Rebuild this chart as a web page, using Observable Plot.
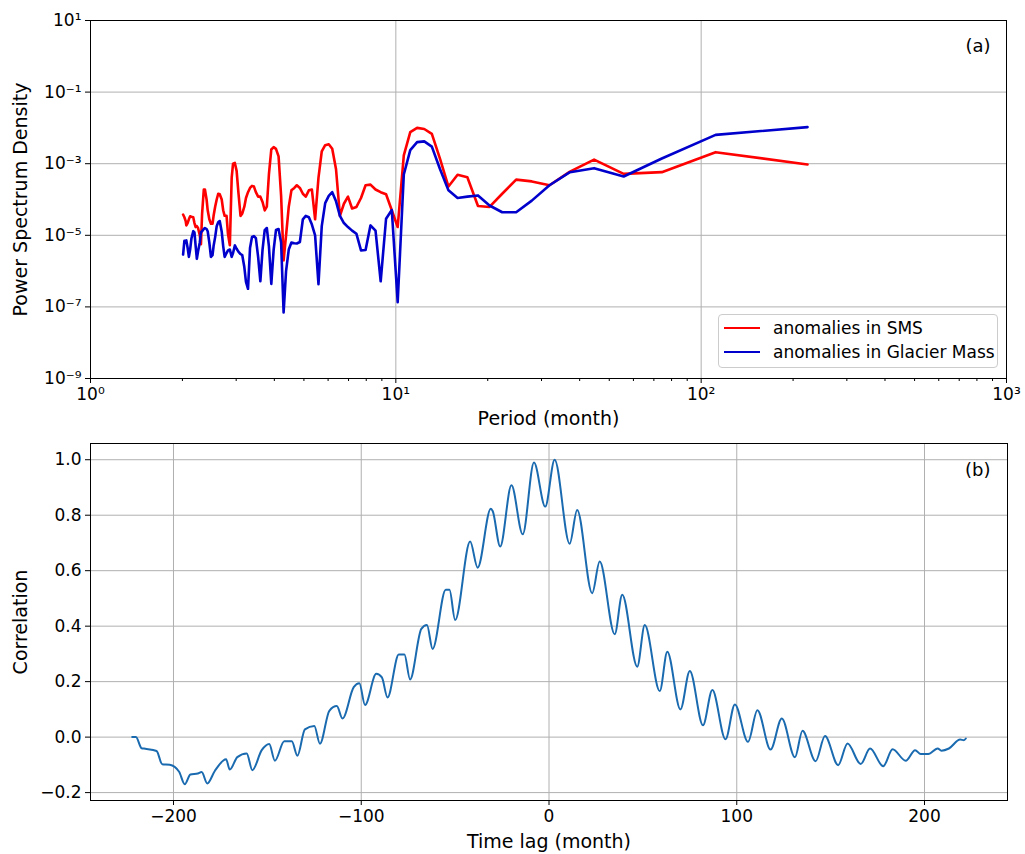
<!DOCTYPE html>
<html><head><meta charset="utf-8">
<script src="https://cdn.jsdelivr.net/npm/d3@7"></script>
<script src="https://cdn.jsdelivr.net/npm/@observablehq/plot@0.6"></script>
<style>
body{margin:0;background:#fff;font-family:"DejaVu Sans",sans-serif;}
#wrap{position:relative;width:1025px;height:854px;}
#top,#bottom{display:block;line-height:0;}
.legend{position:absolute;left:718px;top:314px;width:280px;height:54px;border:1px solid #cccccc;border-radius:4px;background:rgba(255,255,255,0.8);box-sizing:border-box;font-size:17px;color:#000;line-height:1;}
.row{position:absolute;left:0;height:20px;display:flex;align-items:center;white-space:nowrap;}
.sw{display:inline-block;width:36px;height:0;border-top:2.6px solid;margin-left:5px;margin-right:13px;}
</style></head>
<body>
<div id="wrap">
<div id="top"></div>
<div id="bottom"></div>
<div class="legend">
<div class="row" style="top:3px"><span class="sw" style="border-color:#ff0000"></span>anomalies in SMS</div>
<div class="row" style="top:27px"><span class="sw" style="border-color:#0000cd"></span>anomalies in Glacier Mass</div>
</div>
</div>
<script>
// ---- Panel (a): power spectrum density vs period (month) ----
const periods = [223, 111.5, 74.33, 55.75, 44.6, 37.17, 31.86, 27.88, 24.78, 22.3,
 20.27, 18.58, 17.15, 15.93, 14.87, 13.94, 13.12, 12.39, 11.74, 11.15,
 10.62, 10.14, 9.70, 9.29, 8.92, 8.58, 8.26, 7.96, 7.69, 7.43,
 7.19, 6.97, 6.76, 6.56, 6.37, 6.19, 6.03, 5.87, 5.72, 5.58,
 5.44, 5.31, 5.19, 5.07, 4.96, 4.85, 4.74, 4.65, 4.55, 4.46,
 4.37, 4.29, 4.21, 4.13, 4.05, 3.98, 3.91, 3.84, 3.78, 3.72,
 3.66, 3.60, 3.54, 3.48, 3.43, 3.38, 3.33, 3.28, 3.23, 3.19,
 3.14, 3.10, 3.05, 3.01, 2.97, 2.93, 2.90, 2.86, 2.82, 2.79,
 2.75, 2.72, 2.69, 2.65, 2.62, 2.59, 2.56, 2.53, 2.51, 2.48,
 2.45, 2.42, 2.40, 2.37, 2.35, 2.32, 2.30, 2.28, 2.25, 2.23,
 2.21, 2.19, 2.17, 2.14, 2.12, 2.10, 2.08, 2.06, 2.05, 2.03, 2.01];

const psdSMS = [9.5e-4, 2.1e-3, 5.8e-4, 5.2e-4, 1.3e-3, 6.0e-4, 2.5e-4, 3.2e-4, 3.6e-4, 1.45e-4,
 6.2e-5, 6.6e-5, 4.2e-4, 4.9e-4, 2.3e-4, 1.4e-3, 6.8e-3, 9.3e-3, 1.0e-2, 7.6e-3,
 1.7e-3, 1.7e-5, 5.0e-5, 1.4e-4, 1.6e-4, 1.9e-4, 2.6e-4, 2.5e-4, 1.1e-4, 6.2e-5,
 5.6e-5, 1.2e-4, 7.6e-5, 3.5e-5, 7.0e-4, 2.6e-3, 3.5e-3, 3.3e-3, 2.2e-3, 4.0e-4,
 2.8e-5, 1.9e-4, 1.8e-4, 1.2e-4, 1.45e-4, 2.1e-4, 2.5e-4, 2.1e-4, 1.8e-4, 6.3e-5,
 1.0e-5, 2.0e-6, 1.26e-4, 1.6e-3, 2.6e-3, 2.9e-3, 2.5e-3, 5.0e-4, 6.3e-5, 5.0e-5,
 8.5e-5, 1.2e-4, 1.2e-4, 1.6e-4, 2.3e-4, 2.4e-4, 2.1e-4, 1.6e-4, 1.1e-4, 6.3e-5,
 4.0e-5, 3.5e-5, 1.6e-4, 6.3e-4, 1.05e-3, 1.0e-3, 4.0e-4, 5.3e-6, 1.1e-5, 3.5e-5,
 3.5e-5, 5.0e-5, 1.0e-4, 1.4e-4, 1.45e-4, 1.0e-4, 6.3e-5, 3.5e-5, 2.1e-5, 2.1e-5,
 2.8e-5, 5.0e-5, 1.0e-4, 1.9e-4, 1.9e-4, 4.0e-5, 5.6e-6, 1.0e-5, 1.6e-5, 1.8e-5,
 1.7e-5, 2.2e-5, 3.2e-5, 3.3e-5, 3.4e-5, 2.8e-5, 2.2e-5, 1.9e-5, 2.5e-5, 3.2e-5, 3.8e-5];

const psdGlacier = [1.05e-2, 6.4e-3, 1.4e-3, 4.4e-4, 7.5e-4, 5.8e-4, 2.5e-4, 9.3e-5, 4.4e-5, 4.4e-5,
 6.8e-5, 1.3e-4, 1.2e-4, 1.1e-4, 1.8e-4, 7.2e-4, 3.0e-3, 4.2e-3, 4.0e-3, 2.4e-3,
 5.0e-4, 1.35e-7, 5.1e-5, 2.9e-5, 5.2e-7, 1.35e-5, 1.9e-5, 3.9e-6, 3.8e-6, 1.1e-5,
 1.35e-5, 1.7e-5, 2.2e-5, 3.5e-5, 8.9e-5, 1.6e-4, 1.26e-4, 7.9e-5, 1.8e-5, 4.3e-7,
 1.0e-5, 2.0e-5, 3.2e-5, 3.5e-5, 2.8e-5, 6.5e-6, 5.9e-6, 6.0e-6, 6.3e-6, 4.0e-6,
 1.0e-6, 7.0e-8, 6.3e-6, 1.5e-5, 1.4e-5, 4.0e-6, 4.4e-7, 5.0e-6, 1.6e-5, 1.4e-5,
 4.0e-6, 5.2e-7, 2.5e-6, 8.3e-6, 9.5e-6, 9.0e-6, 4.4e-6, 3.2e-7, 5.0e-7, 1.3e-6,
 2.8e-6, 3.0e-6, 3.5e-6, 4.2e-6, 5.2e-6, 3.2e-6, 2.5e-6, 4.0e-6, 3.8e-6, 3.2e-6,
 2.5e-6, 5.0e-6, 1.26e-5, 2.5e-5, 2.3e-5, 1.8e-5, 8.9e-6, 5.0e-6, 2.8e-6, 2.5e-6,
 6.3e-6, 1.3e-5, 1.5e-5, 1.6e-5, 1.5e-5, 1.3e-5, 1.2e-5, 6.3e-6, 3.5e-6, 2.2e-6,
 5.0e-6, 1.2e-5, 1.3e-5, 8.0e-6, 4.0e-6, 2.5e-6, 4.5e-6, 7.2e-6, 7.0e-6, 7.0e-6, 2.9e-6];

const periodTicks = [1, 10, 100, 1000];
const periodMinorTicks = [2,3,4,5,6,7,8,9,20,30,40,50,60,70,80,90,200,300,400,500,600,700,800,900];
const psdTicks = [1e-9, 1e-7, 1e-5, 1e-3, 1e-1, 1e1];

// ---- Panel (b): correlation vs time lag (month) ----
const lags = [-222, -220, -217, -215, -209, -206, -202, -197, -194, -191,
 -187, -185, -182, -178, -172, -170, -166, -161, -158, -153,
 -149, -146, -141, -137, -134, -130, -125, -122, -117, -113,
 -110, -104, -101, -98, -92, -89, -86, -80, -77, -74,
 -68, -65, -62, -55, -53, -50, -42, -38, -31, -30,
 -26, -20, -14, -8, -2, 3, 11, 15, 23, 27,
 35, 39, 47, 51, 59, 63, 70, 75, 82, 87,
 94, 99, 106, 111, 118, 124, 131, 135, 142, 147,
 154, 159, 166, 171, 178, 183, 190, 195, 198, 202,
 207, 209, 213, 219, 221, 222];
const correlation = [0.0, 0.0, -0.04, -0.042, -0.05, -0.098, -0.10, -0.125, -0.17, -0.135,
 -0.131, -0.126, -0.167, -0.122, -0.08, -0.117, -0.072, -0.059, -0.119, -0.047,
 -0.025, -0.085, -0.015, -0.015, -0.067, 0.028, 0.040, -0.024, 0.095, 0.112,
 0.067, 0.18, 0.194, 0.116, 0.228, 0.215, 0.143, 0.298, 0.298, 0.208,
 0.39, 0.404, 0.318, 0.531, 0.531, 0.422, 0.705, 0.611, 0.823, 0.815,
 0.687, 0.908, 0.731, 0.99, 0.831, 1.0, 0.697, 0.819, 0.519, 0.633,
 0.371, 0.513, 0.254, 0.404, 0.166, 0.308, 0.100, 0.238, 0.043, 0.170,
 -0.008, 0.118, -0.017, 0.097, -0.045, 0.067, -0.073, 0.023, -0.087, 0.004,
 -0.101, -0.023, -0.097, -0.041, -0.105, -0.044, -0.085, -0.047, -0.061, -0.061,
 -0.041, -0.049, -0.041, -0.009, -0.011, -0.005];
const lagTicks = [-200, -100, 0, 100, 200];
const corrTicks = [-0.2, 0.0, 0.2, 0.4, 0.6, 0.8, 1.0];

// ---- helpers ----
const SUP = {"-":"\u207B","0":"\u2070","1":"\u00B9","2":"\u00B2","3":"\u00B3","4":"\u2074","5":"\u2075","6":"\u2076","7":"\u2077","8":"\u2078","9":"\u2079"};
const pow10 = d => "10" + String(Math.round(Math.log10(d))).replace(/[-0-9]/g, c => SUP[c]);
const minus = s => String(s).replace("-", "\u2212");
const font = '"DejaVu Sans", sans-serif';
const gridStyle = {stroke: "#b0b0b0", strokeOpacity: 1, strokeWidth: 1};
const labelSize = 19;

const smsRows = periods.map((p, i) => ({period: p, psd: psdSMS[i]}));
const glRows = periods.map((p, i) => ({period: p, psd: psdGlacier[i]}));
const corrRows = lags.map((l, i) => ({lag: l, corr: correlation[i]}));

const topChart = Plot.plot({
  width: 1025, height: 430,
  marginLeft: 90, marginRight: 19, marginTop: 20, marginBottom: 52,
  style: {fontFamily: font, fontSize: "17px", color: "black", background: "white", overflow: "visible"},
  x: {type: "log", domain: [1, 1000]},
  y: {type: "log", domain: [1e-9, 10]},
  marks: [
    Plot.gridX(periodTicks, gridStyle),
    Plot.gridY(psdTicks, gridStyle),
    Plot.line(smsRows, {x: "period", y: "psd", stroke: "#ff0000", strokeWidth: 2.6}),
    Plot.line(glRows, {x: "period", y: "psd", stroke: "#0000cd", strokeWidth: 2.6}),
    Plot.frame({stroke: "black", strokeWidth: 1}),
    Plot.axisX(periodTicks, {tickSize: 5, tickPadding: 4, tickFormat: pow10, label: null, fontSize: 17}),
    Plot.axisX(periodMinorTicks, {tickSize: 3, tickFormat: () => "", label: null}),
    Plot.axisY(psdTicks, {tickSize: 5, tickPadding: 4, tickFormat: pow10, label: null, fontSize: 17}),
    Plot.text(["Period (month)"], {text: d => d, frameAnchor: "bottom", lineAnchor: "middle", textAnchor: "middle", dy: 40, fontSize: labelSize}),
    Plot.text(["Power Spectrum Density"], {text: d => d, frameAnchor: "left", textAnchor: "middle", lineAnchor: "middle", rotate: -90, dx: -70, fontSize: labelSize}),
    Plot.text(["(a)"], {text: d => d, frameAnchor: "top-right", textAnchor: "end", lineAnchor: "middle", dx: -16, dy: 26, fontSize: 18})
  ]
});
document.getElementById("top").appendChild(topChart);

const bottomChart = Plot.plot({
  width: 1025, height: 424,
  marginLeft: 90, marginRight: 18, marginTop: 13, marginBottom: 54,
  style: {fontFamily: font, fontSize: "17px", color: "black", background: "white", overflow: "visible"},
  x: {domain: [-244.2, 244.2]},
  y: {domain: [-0.2285, 1.0585]},
  marks: [
    Plot.gridX(lagTicks, gridStyle),
    Plot.gridY(corrTicks, gridStyle),
    Plot.line(corrRows, {x: "lag", y: "corr", stroke: "#1a6ab0", strokeWidth: 2, curve: "monotone-x"}),
    Plot.frame({stroke: "black", strokeWidth: 1}),
    Plot.axisX(lagTicks, {tickSize: 5, tickPadding: 4, tickFormat: d => minus(d), label: null, fontSize: 17}),
    Plot.axisY(corrTicks, {tickSize: 5, tickPadding: 4, tickFormat: d => minus(d.toFixed(1)), label: null, fontSize: 17}),
    Plot.text(["Time lag (month)"], {text: d => d, frameAnchor: "bottom", lineAnchor: "middle", textAnchor: "middle", dy: 41, fontSize: labelSize}),
    Plot.text(["Correlation"], {text: d => d, frameAnchor: "left", textAnchor: "middle", lineAnchor: "middle", rotate: -90, dx: -70, fontSize: labelSize}),
    Plot.text(["(b)"], {text: d => d, frameAnchor: "top-right", textAnchor: "end", lineAnchor: "middle", dx: -17, dy: 27, fontSize: 18})
  ]
});
document.getElementById("bottom").appendChild(bottomChart);
</script>
</body></html>
